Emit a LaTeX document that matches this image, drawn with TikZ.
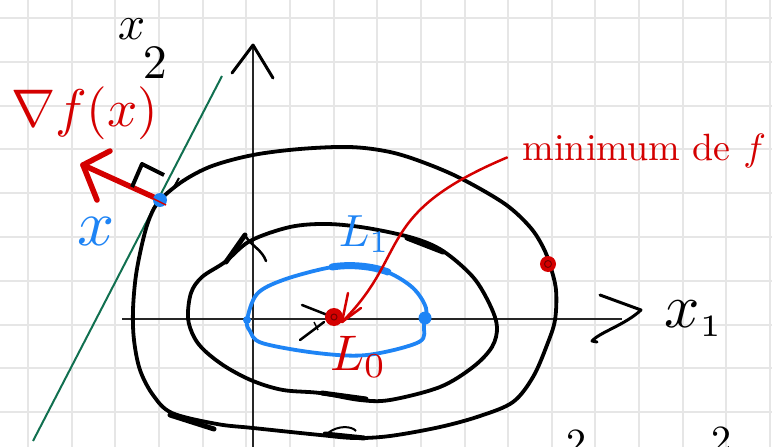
\documentclass[tikz,border=0pt]{standalone}
\usetikzlibrary{calc}
\definecolor{pred}{HTML}{D40000}
\definecolor{pblue}{HTML}{1E84F5}
\definecolor{pgreen}{HTML}{117050}
\definecolor{pgrid}{HTML}{E6E6E6}
\tikzset{
  gridline/.style={draw=pgrid, line width=2pt},
  axisline/.style={draw=black!85, line width=1.3pt},
  axishead/.style={draw=black, line width=3pt, line cap=round, line join=round},
  contour/.style={draw=black, line width=3.8pt, line join=round},
  bluecontour/.style={draw=pblue, line width=3.8pt, line join=round},
  scrib/.style={draw=black, line width=5pt, line cap=round},
  redpen/.style={draw=pred, line width=2.5pt, line cap=round, line join=round},
  gradpen/.style={draw=pred, line width=5.5pt, line cap=round, line join=round},
  tangent/.style={draw=pgreen, line width=2pt},
  hand/.style={inner sep=0pt, anchor=base west}
}
\begin{document}
\begin{tikzpicture}[x=1pt,y=-1pt]
\useasboundingbox (0,0) rectangle (772,447);
\fill[white] (0,0) rectangle (772,447);
% grid
\foreach \i in {0,...,17} \draw[gridline] ({28+43.65*\i},0) -- ({28+43.65*\i},447);
\foreach \j in {0,...,9} \draw[gridline] (0,{18+43.8*\j}) -- (772,{18+43.8*\j});

% named points
\coordinate (xpt) at (160,200);
\coordinate (minpt) at (334,317);
\coordinate (gradtip) at (83,165);
\coordinate (mintip) at (342,322);
\coordinate (x2top) at (253,45);
\coordinate (x2bot) at (253,447);
\coordinate (x1left) at (122,319);
\coordinate (x1right) at (622,319);
\coordinate (x1tip) at (641,310);
\coordinate (tanA) at (33,441);
\coordinate (tanB) at (222,76);

% axes
\draw[axisline] (x2bot) -- (x2top);
\draw[axishead] (232,73) -- (x2top) -- (273,78);
\draw[axisline] (x1left) -- (x1right);
\draw[axishead] (600,295) -- (x1tip) .. controls (625,325) and (600,332) .. (592,341) -- (597,342);

% tangent line
\draw[tangent] (tanA) -- (tanB);

% outer level curve
\draw[contour] plot[smooth cycle, tension=0.55] coordinates {
 (160,200) (183,181) (212,166) (253,155) (300,149) (350,147) (390,152) (425,163)
 (462,179) (505,204) (530,227) (543,247) (550,265) (556,290) (555,320) (547,345)
 (533,377) (513,402) (480,416) (440,427) (390,436) (355,438) (320,435) (253,428)
 (217,424) (172,413) (153,395) (140,370) (134,340) (133,310) (136,275) (143,240) (150,217)};
\draw[draw=black, line width=2pt] (174,187) -- (179,178);

% middle level curve
\draw[contour] plot[smooth cycle, tension=0.55] coordinates {
 (188,318) (191,293) (202,277) (225,262) (250,241) (290,227) (327,224) (367,228)
 (413,238) (443,251) (473,277) (490,305) (497,327) (492,347) (473,367) (440,387)
 (390,400) (360,400) (320,393) (283,390) (253,381) (226,367) (205,351) (194,337)};

% heavy pen marks
\draw[scrib] (226,262) -- (245,235);
\draw[draw=black, line width=2.5pt, line cap=round] (246,237) .. controls (252,246) and (262,250) .. (266,261);
\draw[scrib] (407,238) -- (443,252);
\draw[scrib] (322,393) -- (366,399);
\draw[scrib] (170,415) -- (214,429);
\draw[scrib] (325,434) -- (364,438);
\draw[draw=black, line width=2pt] (328,433) .. controls (338,425) and (352,426) .. (356,431);

% blue level curve L1
\draw[bluecontour] plot[smooth cycle, tension=0.55] coordinates {
 (247,320) (257,294) (283,280) (327,268) (355,266) (387,272) (413,288) (426,308)
 (424,325) (419,342) (367,355) (317,353) (262,343) (250,331)};
\draw[draw=pblue, line width=7pt, line cap=round] (332,267) .. controls (350,264) and (372,266) .. (388,272);
\fill[pblue] (247,320) circle (4pt);
\fill[pblue] (425,318) circle (6.5pt);

% minimum point
\draw[draw=black, line width=2.5pt, line cap=round] (302,305) -- (330,316);
\draw[draw=black, line width=2.5pt, line cap=round] (300,340) -- (324,322);
\draw[draw=black, line width=1.5pt] (314,322) -- (318,330);
\fill[pred] (minpt) circle (9pt);
\draw[pred!55!black, line width=1pt] (minpt) circle (3pt);

% red point on outer curve
\fill[pred] (548,264) circle (8pt);
\draw[pred!55!black, line width=1pt] (548,264) circle (3.5pt);

% gradient arrow at x
\draw[gradpen] (xpt) -- (gradtip);
\draw[gradpen] (gradtip) ++(27,-14) -- (gradtip) -- ++(14,35);
\draw[draw=black, line width=4pt, line join=round] (132,187) -- (142,164) -- (164,175);
\fill[pblue] (xpt) circle (7pt);
\draw[draw=pred, line width=1.5pt] (152,198) -- (166,205);

% labels
\node[hand, scale=4.8] (x2label) at (117,39) {$x\kern-0.5pt\lower8.3pt\hbox{$2$}$};
\node[hand, scale=6.2] (x1label) at (663,327) {$x_{\scriptscriptstyle 1}$};
\node[hand, scale=5.3, text=pred] (gradlabel) at (10,126) {$\nabla f(x)$};
\node[hand, scale=6.5, text=pblue] (xlabel) at (76,245) {$x$};
\node[hand, scale=4.5, text=pblue] (L1label) at (338,246) {$L_1$};
\node[hand, scale=5, text=pred] (L0label) at (329,370) {$L_0$};
\node[hand, scale=3.8, text=pred] (minlabel) at (522,160) {minimum de $f$};
\node[inner sep=0pt, anchor=north, scale=4] (cutA) at (576,430) {$2$};
\node[inner sep=0pt, anchor=north, scale=4] (cutB) at (721,427) {$2$};

% connector: label to minimum
\draw[redpen] ($(minlabel.west)+(-15,7)$) .. controls (373,214) and (411,253) .. (mintip);
\draw[redpen] (mintip) ++(6,-29) -- (mintip) -- ++(19,-14);
\end{tikzpicture}
\end{document}
